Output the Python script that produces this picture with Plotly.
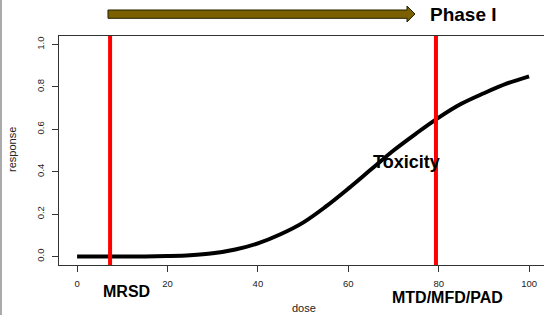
import plotly.graph_objects as go

# Data
dose = [0, 5, 10, 15, 20, 25, 30, 35, 40, 45, 50, 55, 60, 65, 70, 75, 80, 85, 90, 95, 100]
response = [0.0, 0.0, 0.0, 0.0, 0.002, 0.006, 0.015, 0.033, 0.062, 0.105, 0.16, 0.235,
            0.32, 0.41, 0.50, 0.58, 0.655, 0.72, 0.77, 0.815, 0.85]
marker_doses = [7.3, 79.4]
marker_labels = ["MRSD", "MTD/MFD/PAD"]
x_ticks = [0, 20, 40, 60, 80, 100]
y_ticks = [0.0, 0.2, 0.4, 0.6, 0.8, 1.0]
y_ticklabels = ["0.0", "0.2", "0.4", "0.6", "0.8", "1.0"]

W, H = 544, 315
L, R, T, B = 59, 0, 36, 50
PW, PH = W - L - R, H - T - B

def px(x):
    return (x - L) / PW

def py(y):
    return (H - B - y) / PH

FONT = "Liberation Sans, Arial, Helvetica, sans-serif"

fig = go.Figure()
fig.add_trace(go.Scatter(x=dose, y=response, mode="lines",
                         line=dict(color="black", width=4, shape="spline"),
                         hoverinfo="skip", showlegend=False))

shapes = []
for d in marker_doses:
    shapes.append(dict(type="line", xref="x", yref="paper", x0=d, x1=d, y0=0, y1=1,
                       line=dict(color="#ff0000", width=4), layer="above"))

# slide left border
shapes.append(dict(type="line", xref="paper", yref="paper", x0=px(1), x1=px(1),
                   y0=py(315), y1=py(0), line=dict(color="#aaaaaa", width=2)))

# Phase I arrow
pts = [(108, 10), (407, 10), (407, 6), (415, 14), (407, 22), (407, 18.3), (108, 18.3)]
path = "M " + " L ".join(f"{px(a):.5f},{py(b):.5f}" for a, b in pts) + " Z"
shapes.append(dict(type="path", xref="paper", yref="paper", path=path,
                   fillcolor="#7a6000", line=dict(color="#222200", width=1)))

annotations = [
    dict(text="<b>Phase I</b>", x=px(463), y=py(14.5), font=dict(size=19, color="black", family=FONT)),
    dict(text="<b>Toxicity</b>", x=px(406), y=py(162), font=dict(size=18, color="black", family=FONT)),
    dict(text=f"<b>{marker_labels[0]}</b>", x=px(126), y=py(291), font=dict(size=16, color="black", family=FONT)),
    dict(text=f"<b>{marker_labels[1]}</b>", x=px(447), y=py(297), font=dict(size=16, color="black", family=FONT)),
    dict(text="dose", x=px(303.5), y=py(308), font=dict(size=11, color="#222", family=FONT)),
    dict(text="response", x=px(12), y=py(150), textangle=-90, font=dict(size=11, color="#222", family=FONT)),
]
for a in annotations:
    a.update(xref="paper", yref="paper", showarrow=False, xanchor="center", yanchor="middle")

fig.update_layout(
    width=W, height=H, margin=dict(l=L, r=R, t=T, b=B),
    paper_bgcolor="white", plot_bgcolor="white",
    shapes=shapes, annotations=annotations,
    font=dict(family=FONT, size=9.5, color="#222"),
    xaxis=dict(range=[-4, 103.3], tickvals=x_ticks, ticks="outside", ticklen=6, tickcolor="#333",
               showline=True, linecolor="#333", linewidth=1, mirror=True, showgrid=False,
               zeroline=False, ticklabelstandoff=4, tickfont=dict(size=9.5, color="#222")),
    yaxis=dict(range=[-0.04, 1.04], tickvals=y_ticks, ticktext=y_ticklabels, tickangle=-90,
               ticks="outside", ticklen=6, tickcolor="#333", showline=True, linecolor="#333",
               linewidth=1, mirror=False, showgrid=False, zeroline=False, ticklabelstandoff=4,
               tickfont=dict(size=9.5, color="#222")),
)

fig.write_html("out.html", config={"displayModeBar": False},
               post_script="document.body.style.margin='0px';document.body.style.overflow='hidden';")
